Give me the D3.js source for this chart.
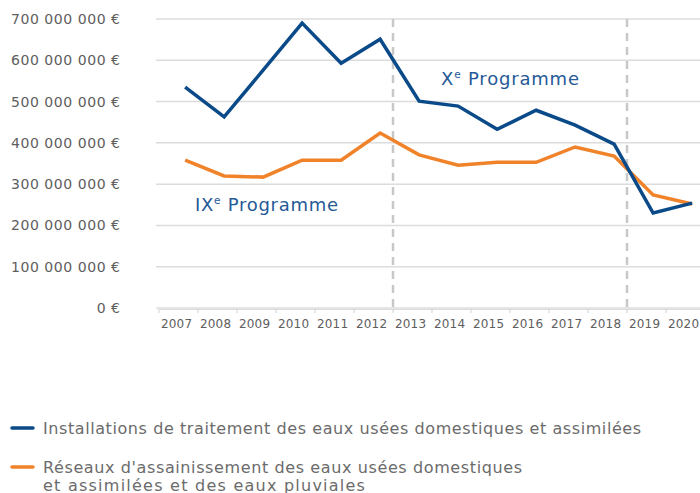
<!DOCTYPE html>
<html><head><meta charset="utf-8">
<script src="https://cdn.jsdelivr.net/npm/d3@7"></script>
<style>body{margin:0;background:#fff;}svg{display:block;font-family:"DejaVu Sans",sans-serif;}</style>
</head><body>
<svg id="c" width="700" height="493"></svg>
<script>
const years = ["2007","2008","2009","2010","2011","2012","2013","2014","2015","2016","2017","2018","2019","2020"];
const installations = [535e6,463e6,576e6,690e6,593e6,651e6,501e6,489e6,433e6,479e6,443e6,397e6,230e6,254e6];
const reseaux = [358e6,320e6,317e6,358e6,358e6,424e6,371e6,346e6,353e6,353e6,390e6,368e6,274e6,252e6];
const yTicks = [0,100e6,200e6,300e6,400e6,500e6,600e6,700e6];
const programmeBreaks = ["2013","2019"];
const seriesNames = ["Installations de traitement des eaux usées domestiques et assimilées",
  ["Réseaux d'assainissement des eaux usées domestiques","et assimilées et des eaux pluviales"]];
const colors = ["#0b4a88","#f0832a"];

const svg = d3.select("#c");
const x = d3.scaleBand().domain(years).range([159,705]).padding(0);
const y = d3.scaleLinear().domain([0,700e6]).range([308,19]);
const bw = x.bandwidth();
const px = d => x(d) + bw*0.67;

const fmt = v => (v===0 ? "0" : d3.format(",")(v).replace(/,/g," ")) + " €";

// letter-spacing needed for a text node to reach a target width
function spacingFor(node, w){
  const n = node.getNumberOfChars();
  return (w - node.getComputedTextLength())/(n-1);
}

// gridlines
svg.append("g").selectAll("line").data(yTicks).join("line")
  .attr("x1",156).attr("x2",700).attr("y1",d=>y(d)).attr("y2",d=>y(d))
  .attr("stroke","#dcdcdc").attr("stroke-width",1.5);

// y labels
const yl = svg.append("g").selectAll("text").data(yTicks).join("text")
  .attr("x",120).attr("y",d=>y(d)+5).attr("text-anchor","end")
  .attr("font-size",14).attr("fill","#5e5e5e").text(fmt);
const ysp = spacingFor(yl.nodes()[7], 109);
yl.attr("letter-spacing",ysp.toFixed(2)).attr("x",120+ysp);

// x axis
const xa = svg.append("g").attr("transform","translate(0,309)")
  .call(d3.axisBottom(x).tickSize(0).tickFormat(""));
xa.select(".domain").attr("stroke","#dcdcdc").attr("stroke-width",1.2);
svg.append("g").selectAll("line").data(years).join("line")
  .attr("x1",d=>x(d)).attr("x2",d=>x(d)).attr("y1",309).attr("y2",313)
  .attr("stroke","#d0d0d0").attr("stroke-width",1);
const xl = svg.append("g").selectAll("text").data(years).join("text")
  .attr("y",328).attr("text-anchor","middle")
  .attr("font-size",12).attr("fill","#5e5e5e").text(d=>d);
const xsp = spacingFor(xl.nodes()[0], 31);
xl.attr("letter-spacing",xsp.toFixed(2)).attr("x",d=>x(d)+bw*0.45+xsp/2);

// dashed programme breaks
svg.append("g").selectAll("line").data(programmeBreaks).join("line")
  .attr("x1",d=>x(d)).attr("x2",d=>x(d)).attr("y1",19).attr("y2",312)
  .attr("stroke","#c8c8c8").attr("stroke-width",2.5).attr("stroke-dasharray","8,6");

// lines
const line = d3.line().x((d,i)=>px(years[i])).y(d=>y(d));
[reseaux, installations].forEach((s,k)=>{
  svg.append("path").datum(s).attr("d",line).attr("fill","none")
    .attr("stroke", k===0?colors[1]:colors[0]).attr("stroke-width",3.5)
    .attr("stroke-linejoin","miter");
});

// annotations
function prog(xp,yp,roman,w){
  const t = svg.append("text").attr("x",xp).attr("y",yp).attr("font-size",18).attr("fill","#265a97");
  t.append("tspan").text(roman);
  t.append("tspan").attr("font-size",10.5).attr("dy",-7).text("e");
  t.append("tspan").attr("dy",7).text(" Programme");
  t.attr("letter-spacing",spacingFor(t.node(),w).toFixed(2));
}
prog(195,211,"IX",143);
prog(441,85,"X",138);

// legend
const lg = svg.append("g");
function ltext(xp,yp,s,w){
  const t = lg.append("text").attr("x",xp).attr("y",yp).attr("font-size",16).attr("fill","#6b6b6b").text(s);
  t.attr("letter-spacing",spacingFor(t.node(),w).toFixed(2));
}
lg.append("line").attr("x1",12).attr("x2",33).attr("y1",428).attr("y2",428).attr("stroke",colors[0]).attr("stroke-width",3.5).attr("stroke-linecap","round");
ltext(43,434,seriesNames[0],598);
lg.append("line").attr("x1",12).attr("x2",33).attr("y1",467).attr("y2",467).attr("stroke",colors[1]).attr("stroke-width",3.5).attr("stroke-linecap","round");
ltext(43,473,seriesNames[1][0],479);
ltext(43,491,seriesNames[1][1],322);
</script>
</body></html>
